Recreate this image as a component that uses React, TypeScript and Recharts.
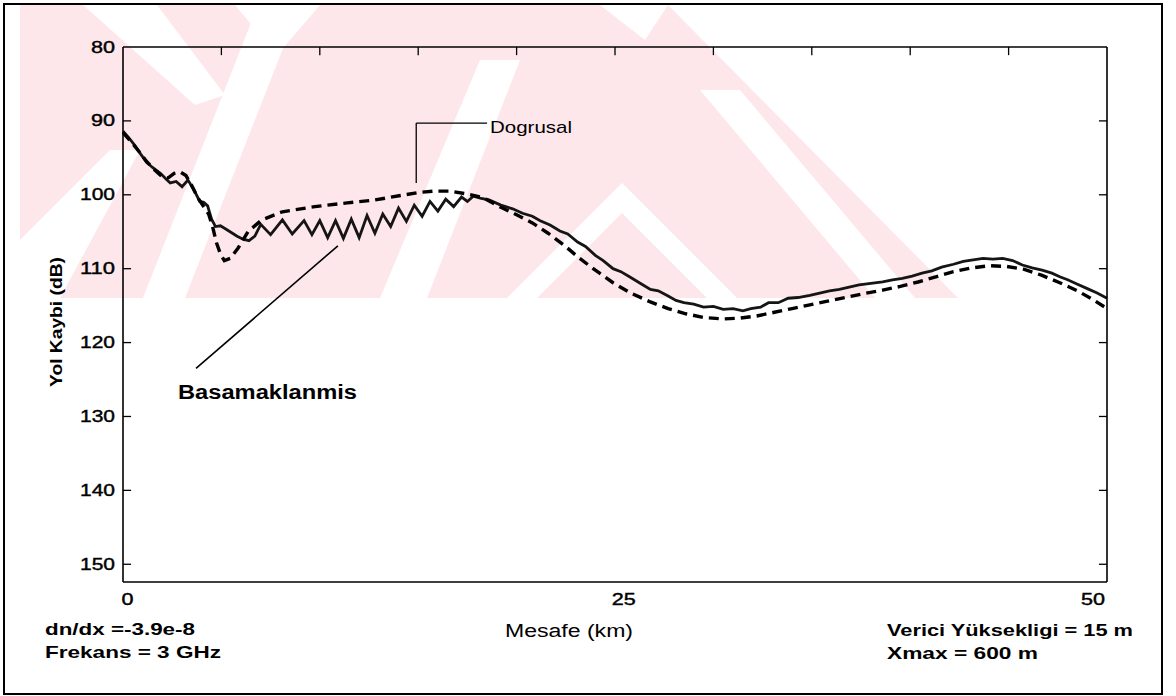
import React from 'react';
import { LineChart, Line, XAxis, YAxis, ReferenceLine, Customized } from 'recharts';

// Basamaklanmis (stepped profile) – solid curve
const steppedKm = [
  0, 0.3, 0.6, 0.9, 1.2, 1.5, 1.9, 2.2, 2.4, 2.7, 3.0, 3.3, 3.6, 3.9, 4.1, 4.3, 4.5, 4.7, 4.95, 5.2,
  5.5, 5.8, 6.1, 6.4, 6.7, 7.0, 7.5, 8.1, 8.6, 9.2, 9.6, 10.0, 10.4, 10.8, 11.2, 11.6, 12.0, 12.4, 12.8, 13.2,
  13.6, 14.0, 14.4, 14.8, 15.2, 15.6, 16.0, 16.4, 16.8, 17.2, 17.5, 17.8, 18.2, 18.6, 19.2, 19.8, 20.3, 20.8, 21.2, 21.7,
  22.2, 22.6, 23.1, 23.5, 24.0, 24.4, 24.9, 25.3, 25.8, 26.3, 26.8, 27.2, 27.7, 28.1, 28.5, 29.0, 29.5, 30.0, 30.5, 31.0,
  31.5, 31.9, 32.4, 32.8, 33.3, 33.8, 34.3, 34.9, 35.4, 35.9, 36.4, 36.9, 37.4, 38.0, 38.6, 39.1, 39.6, 40.1, 40.6, 41.1,
  41.6, 42.2, 42.7, 43.2, 43.7, 44.2, 44.7, 45.2, 45.7, 46.2, 46.7, 47.2, 47.6, 48.0, 48.5, 49.0, 49.5, 50,
];
const steppedDb = [
  91.4, 92.3, 93.3, 94.5, 95.6, 96.3, 97.1, 97.9, 98.4, 98.2, 98.9, 98.0, 99.3, 100.9, 101.0, 101.5, 103.3, 104.3, 104.2, 104.6,
  105.1, 105.6, 106.0, 106.2, 105.6, 104.0, 105.4, 103.4, 105.3, 103.5, 105.4, 103.5, 105.8, 103.5, 105.9, 103.3, 105.8, 102.8, 105.2, 102.6,
  104.3, 101.8, 103.6, 101.4, 102.9, 100.9, 102.2, 100.6, 101.6, 100.3, 100.9, 100.2, 100.5, 100.7, 101.4, 101.9, 102.5, 102.9, 103.5, 104.1,
  104.9, 105.3, 106.4, 107.0, 108.2, 108.9, 110.0, 110.4, 111.2, 112.0, 112.8, 113.0, 113.7, 114.3, 114.6, 114.8, 115.2, 115.1, 115.5, 115.4,
  115.7, 115.4, 115.2, 114.6, 114.6, 114.0, 113.9, 113.6, 113.3, 113.0, 112.8, 112.5, 112.2, 112.0, 111.8, 111.5, 111.3, 111.0, 110.6, 110.3,
  109.8, 109.4, 109.0, 108.8, 108.6, 108.7, 108.6, 108.9, 109.5, 109.9, 110.2, 110.6, 111.1, 111.5, 112.1, 112.7, 113.3, 114.0,
];

// Dogrusal (linear profile) – dashed curve
const linearKm = [
  0, 0.4, 0.8, 1.2, 1.6, 2.0, 2.3, 2.6, 2.9, 3.2, 3.5, 3.8, 4.1, 4.35, 4.55, 4.75, 4.95, 5.15, 5.45, 5.85,
  6.35, 7.05, 8.1, 9.75, 11.4, 12.8, 14.1, 15.0, 15.8, 16.6, 17.5, 18.3, 19.2, 20.0, 20.8, 21.6, 22.4, 23.2, 24.0, 24.9,
  25.8, 26.8, 27.7, 28.6, 29.5, 30.5, 31.3, 32.2, 33.1, 34.0, 34.9, 35.8, 36.7, 37.6, 38.6, 39.5, 40.4, 41.3, 42.2, 43.1,
  44.0, 44.9, 45.8, 46.7, 47.6, 48.5, 49.3, 50,
];
const linearDb = [
  91.6, 92.8, 94.1, 95.5, 96.6, 97.6, 97.7, 97.1, 96.9, 97.4, 98.8, 100.4, 101.6, 102.6, 104.3, 106.5, 108.0, 108.9, 108.6, 107.2,
  105.0, 103.4, 102.3, 101.6, 101.1, 100.7, 100.1, 99.7, 99.5, 99.5, 99.9, 100.4, 101.7, 102.7, 103.8, 105.2, 106.8, 108.6, 110.2, 111.9,
  113.3, 114.5, 115.4, 116.1, 116.6, 116.8, 116.7, 116.4, 115.9, 115.4, 114.9, 114.4, 113.9, 113.4, 112.9, 112.4, 111.8, 111.1, 110.4, 109.9,
  109.6, 109.7, 110.1, 110.9, 111.9, 113.0, 114.2, 115.4,
];

const yTicks = [80, 90, 100, 110, 120, 130, 140, 150];
const xTopTicks = [5, 10, 15, 20, 25, 30, 35, 40, 45];
const xLabelTicks = [0, 25, 50];

const steppedData = steppedKm.map((km, i) => ({ km, loss: steppedDb[i] }));
const linearData = linearKm.map((km, i) => ({ km, loss: linearDb[i] }));

const FONT = '"Liberation Sans", Arial, Helvetica, sans-serif';
const PINK = '#fde7eb';
// inward tick length expressed in axis units (about 8 px)
const TICK_KM = 0.41;
const TICK_DB = 1.1;

const YTick = (props: any) => {
  const label = String(props.payload.value);
  return (
    <text x={115} y={props.y + 5.5} textAnchor="end" fontFamily={FONT} fontSize={16}
      fill="#000" stroke="#000" strokeWidth={0.4} textLength={label.length === 2 ? 24 : 35} lengthAdjust="spacingAndGlyphs">
      {label}
    </text>
  );
};

const xShift: Record<number, number> = { 0: 4.5, 25: 8.7, 50: -14 };

const XTick = (props: any) => {
  const v = props.payload.value;
  const label = String(v);
  return (
    <text x={props.x + (xShift[v] || 0)} y={props.y + 23} textAnchor="middle" fontFamily={FONT} fontSize={16}
      fill="#000" stroke="#000" strokeWidth={0.4} textLength={label.length === 1 ? 12 : 24} lengthAdjust="spacingAndGlyphs">
      {label}
    </text>
  );
};

const Note = ({ x, y, w, size, bold, children }: any) => (
  <text x={x} y={y} fontFamily={FONT} fontSize={size} fontWeight={bold ? 'bold' : 'normal'} fill="#000"
    textLength={w} lengthAdjust="spacingAndGlyphs">
    {children}
  </text>
);

const Annotations = () => (
  <g>
    <Note x={490} y={133} w={82} size={17}>Dogrusal</Note>
    <Note x={178} y={399} w={179} size={20} bold>Basamaklanmis</Note>
    <Note x={505} y={637} w={128} size={18}>Mesafe (km)</Note>
    <Note x={45} y={635} w={150} size={17} bold>dn/dx =-3.9e-8</Note>
    <Note x={45} y={658} w={176} size={17} bold>Frekans = 3 GHz</Note>
    <Note x={887} y={636} w={246} size={17} bold>Verici Yüksekligi = 15 m</Note>
    <Note x={887} y={659} w={151} size={17} bold>Xmax = 600 m</Note>
    <text x={62} y={322} transform="rotate(-90 62 322)" textAnchor="middle" fontFamily={FONT} fontSize={17}
      fontWeight="bold" fill="#000" textLength={130} lengthAdjust="spacingAndGlyphs">
      Yol Kaybi (dB)
    </text>
  </g>
);

// faint thesis-archive watermark behind the figure
const Watermark = () => (
  <svg width={1176} height={696} style={{ position: 'absolute', left: 0, top: 0 }}>
    <rect x={0} y={0} width={1176} height={696} fill="#fff" />
    <polygon points="20,5 668,5 958,298 20,298" fill={PINK} />
    <polygon points="83,5 157,5 225,95 195,105" fill="#fff" />
    <polygon points="235,5 320,5 277,55" fill="#fff" />
    <polygon points="600,5 668,5 645,40" fill="#fff" />
    <polygon points="143,298 185,298 300,5 258,5" fill="#fff" />
    <polygon points="622,183 737,298 707,298 622,213 537,298 507,298" fill="#fff" />
    <polygon points="20,240 20,298 60,298 140,150 110,150" fill="#fff" />
    <polygon points="380,298 427,298 520,60 480,60" fill="#fff" />
    <polygon points="700,90 740,90 915,298 875,298" fill="#fff" />
    <rect x={4} y={4} width={1158} height={690} fill="none" stroke="#000" strokeWidth={2} />
  </svg>
);

const axisStyle = { stroke: '#000', strokeWidth: 1.6 };

export default function App() {
  return (
    <div style={{ position: 'absolute', left: 0, top: 0, width: 1176, height: 696, background: '#fff' }}>
      <Watermark />
      <div style={{ position: 'absolute', left: 0, top: 0 }}>
        <LineChart width={1176} height={696} margin={{ top: 37, right: 59, left: 63, bottom: 84 }}>
          <XAxis xAxisId="bottom" type="number" dataKey="km" domain={[0, 50]} ticks={xLabelTicks}
            tickLine={false} tickSize={0} tickMargin={0} height={30} tick={<XTick />} axisLine={axisStyle} />
          <XAxis xAxisId="top" orientation="top" type="number" dataKey="km" domain={[0, 50]} ticks={xTopTicks}
            tick={false} tickLine={false} height={10} axisLine={axisStyle} />
          <YAxis yAxisId="left" type="number" domain={[80, 152.4]} reversed ticks={yTicks} width={60}
            tickLine={false} tickSize={0} tickMargin={8} tick={<YTick />} axisLine={axisStyle} />
          <YAxis yAxisId="right" orientation="right" type="number" domain={[80, 152.4]} reversed ticks={yTicks}
            width={10} tick={false} tickLine={false} axisLine={axisStyle} />

          {yTicks.slice(1).map((v) => (
            <ReferenceLine key={`l${v}`} xAxisId="bottom" yAxisId="left" stroke="#000" strokeWidth={1.3}
              segment={[{ x: 0, y: v }, { x: TICK_KM, y: v }]} />
          ))}
          {yTicks.slice(1).map((v) => (
            <ReferenceLine key={`r${v}`} xAxisId="bottom" yAxisId="left" stroke="#000" strokeWidth={1.3}
              segment={[{ x: 50, y: v }, { x: 50 - TICK_KM, y: v }]} />
          ))}
          {xTopTicks.map((k) => (
            <ReferenceLine key={`t${k}`} xAxisId="bottom" yAxisId="left" stroke="#000" strokeWidth={1.3}
              segment={[{ x: k, y: 80 }, { x: k, y: 80 + TICK_DB }]} />
          ))}

          <ReferenceLine xAxisId="bottom" yAxisId="left" stroke="#000" strokeWidth={1.3}
            segment={[{ x: 14.9, y: 98.4 }, { x: 14.9, y: 90.3 }]} />
          <ReferenceLine xAxisId="bottom" yAxisId="left" stroke="#000" strokeWidth={1.3}
            segment={[{ x: 14.9, y: 90.3 }, { x: 18.5, y: 90.3 }]} />
          <ReferenceLine xAxisId="bottom" yAxisId="left" stroke="#000" strokeWidth={1.6}
            segment={[{ x: 3.71, y: 123.5 }, { x: 10.92, y: 106.9 }]} />

          <Line xAxisId="bottom" yAxisId="left" data={steppedData} dataKey="loss" type="linear"
            stroke="#151515" strokeWidth={2.8} dot={false} isAnimationActive={false} />
          <Line xAxisId="bottom" yAxisId="left" data={linearData} dataKey="loss" type="linear"
            stroke="#000" strokeWidth={3.4} strokeDasharray="10 6" dot={false} isAnimationActive={false} />

          <Customized component={Annotations} />
        </LineChart>
      </div>
    </div>
  );
}
